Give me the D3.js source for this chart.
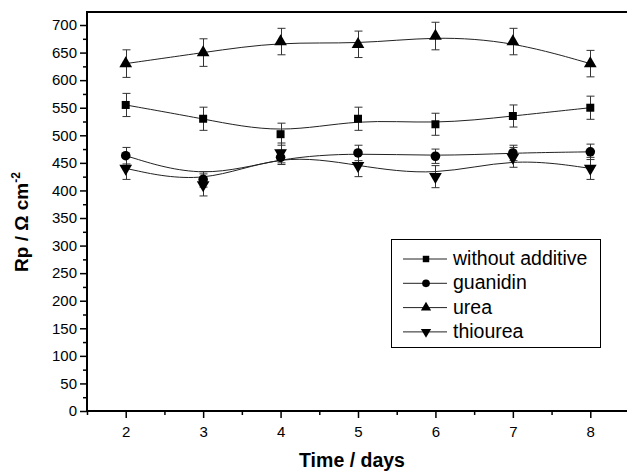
<!DOCTYPE html>
<html>
<head>
<meta charset="utf-8">
<script src="https://d3js.org/d3.v7.min.js"></script>
<style>
body { margin: 0; background: #fff; }
svg { display: block; font-family: "Liberation Sans", Arial, sans-serif; }
</style>
</head>
<body>
<script>
// data
var days = [2, 3, 4, 5, 6, 7, 8];
var seriesNames = ["without additive", "guanidin", "urea", "thiourea"];
var withoutAdditive = [555, 530, 502, 530, 520, 535, 550];
var withoutAdditiveErr = [21, 21, 20, 21, 20, 20, 21];
var guanidin = [463, 420, 460, 468, 462, 468, 470];
var guanidinErr = [15, 14, 13, 14, 13, 14, 14];
var urea = [630, 650, 670, 665, 680, 670, 630];
var ureaErr = [25, 25, 24, 24, 25, 24, 24];
var thiourea = [440, 410, 468, 445, 425, 460, 440];
var thioureaErr = [20, 20, 18, 20, 20, 18, 20];
var yTicks = d3.range(0, 701, 50);
var xTicks = [2, 3, 4, 5, 6, 7, 8];

var width = 627, height = 471;
var margin = {left: 87, top: 12, bottom: 411, right: 629};

var x = d3.scaleLinear().domain([1.5, 8.5]).range([margin.left, margin.right]);
var y = d3.scaleLinear().domain([0, 723.6]).range([margin.bottom, margin.top]);

var svg = d3.select("body").append("svg")
    .attr("width", width)
    .attr("height", height);

var series = [
  {name: seriesNames[0], vals: withoutAdditive, err: withoutAdditiveErr, sym: d3.symbolSquare, size: 64},
  {name: seriesNames[1], vals: guanidin, err: guanidinErr, sym: d3.symbolCircle, size: 72},
  {name: seriesNames[2], vals: urea, err: ureaErr, sym: d3.symbolTriangle, size: 70},
  {name: seriesNames[3], vals: thiourea, err: thioureaErr, sym: d3.symbolTriangle, size: 70, flip: true}
];

// curves (Origin B-spline -> curveBasis)
var line = d3.line()
    .x(function(d, i) { return x(days[i]); })
    .y(function(d) { return y(d); })
    .curve(d3.curveBasis);

series.forEach(function(s) {
  svg.append("path")
      .attr("d", line(s.vals))
      .attr("fill", "none")
      .attr("stroke", "#222")
      .attr("stroke-width", 1);
});

// error bars
series.forEach(function(s) {
  var g = svg.append("g").attr("stroke", "#333").attr("stroke-width", 1);
  s.vals.forEach(function(v, i) {
    var cx = Math.round(x(days[i])) + 0.5;
    var top = y(v + s.err[i]), bot = y(v - s.err[i]);
    g.append("line").attr("x1", cx).attr("x2", cx).attr("y1", top).attr("y2", bot);
    g.append("line").attr("x1", cx - 4).attr("x2", cx + 4).attr("y1", top).attr("y2", top);
    g.append("line").attr("x1", cx - 4).attr("x2", cx + 4).attr("y1", bot).attr("y2", bot);
  });
});

// markers
series.forEach(function(s) {
  svg.append("g").selectAll("path")
    .data(s.vals)
    .enter().append("path")
      .attr("d", d3.symbol().type(s.sym).size(s.size))
      .attr("transform", function(d, i) {
        return "translate(" + x(days[i]) + "," + y(d) + ")" + (s.flip ? " rotate(180)" : "");
      })
      .attr("fill", "#000");
});

// axes
var yAxis = d3.axisLeft(y).tickValues(yTicks).tickSize(7).tickPadding(3).tickFormat(d3.format("d"));
var yMinor = d3.axisLeft(y).tickValues(d3.range(25, 724, 50)).tickSize(4).tickFormat("");
var xAxis = d3.axisBottom(x).tickValues(xTicks).tickSize(7).tickPadding(8).tickFormat(d3.format("d"));
var xMinor = d3.axisBottom(x).tickValues([1.5, 2.5, 3.5, 4.5, 5.5, 6.5, 7.5]).tickSize(4).tickFormat("");

function styleAxis(g) {
  g.select(".domain").remove();
  g.selectAll("line").attr("stroke", "#000").attr("stroke-width", 1.5);
  g.selectAll("text").attr("fill", "#000").style("font-size", "15px");
}

svg.append("g").attr("transform", "translate(" + margin.left + ",0)").call(yAxis).call(styleAxis);
svg.append("g").attr("transform", "translate(" + margin.left + ",0)").call(yMinor).call(styleAxis);
svg.append("g").attr("transform", "translate(0," + margin.bottom + ")").call(xAxis).call(styleAxis);
svg.append("g").attr("transform", "translate(0," + margin.bottom + ")").call(xMinor).call(styleAxis);

// frame (right side is off the picture)
svg.append("path")
    .attr("d", "M" + (width + 5) + "," + margin.top + "H" + margin.left + "V" + margin.bottom + "H" + (width + 5))
    .attr("fill", "none")
    .attr("stroke", "#000")
    .attr("stroke-width", 2);

// axis titles
svg.append("text")
    .attr("x", 352)
    .attr("y", 467)
    .attr("text-anchor", "middle")
    .style("font-size", "19.5px")
    .style("font-weight", "bold")
    .text("Time / days");

var yt = svg.append("text")
    .attr("transform", "translate(28,222) rotate(-90)")
    .attr("text-anchor", "middle")
    .style("font-size", "19px")
    .style("font-weight", "bold");
yt.append("tspan").text("Rp / Ω cm");
yt.append("tspan").attr("dy", -8).style("font-size", "12px").text("-2");

// legend
var legend = svg.append("g");
legend.append("rect")
    .attr("x", 391.5).attr("y", 239.5)
    .attr("width", 209).attr("height", 108)
    .attr("fill", "#fff")
    .attr("stroke", "#000")
    .attr("stroke-width", 1);

series.forEach(function(s, i) {
  var by = 265 + i * 24.3;
  var cy = by - 6;
  legend.append("line")
      .attr("x1", 403).attr("x2", 447)
      .attr("y1", cy).attr("y2", cy)
      .attr("stroke", "#222").attr("stroke-width", 1);
  legend.append("path")
      .attr("d", d3.symbol().type(s.sym).size(s.size * 0.65))
      .attr("transform", "translate(426," + cy + ")" + (s.flip ? " rotate(180)" : ""))
      .attr("fill", "#000");
  legend.append("text")
      .attr("x", 453).attr("y", by)
      .style("font-size", "19.5px")
      .text(s.name);
});
</script>
</body>
</html>
